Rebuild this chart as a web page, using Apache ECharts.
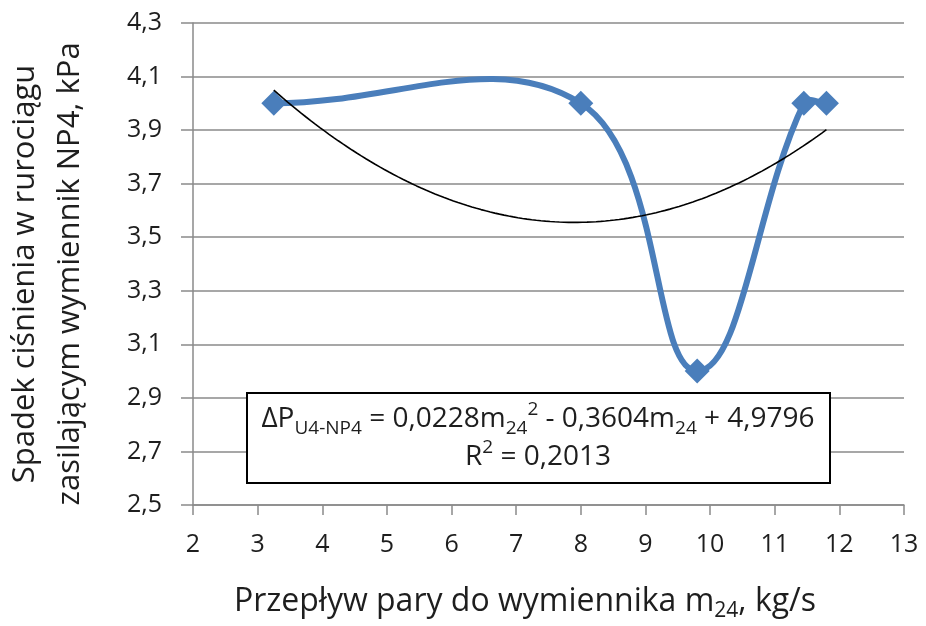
<!DOCTYPE html>
<html>
<head>
<meta charset="utf-8">
<script src="https://cdn.jsdelivr.net/npm/echarts@6/dist/echarts.min.js"></script>
<style>
  html, body { margin: 0; padding: 0; background: #fff; }
  #chart { width: 926px; height: 626px; }
</style>
</head>
<body>
<div id="chart"></div>
<script>
// Measured steam flow m24 [kg/s] and pressure drop in the NP4 supply pipeline [kPa]
const flowValues = [3.25, 8.0, 9.8, 11.45, 11.8];
const pressureDrop = [4.0, 4.0, 3.0, 4.0, 4.0];

// Quadratic trendline as printed in the equation box: c0 + c1*m + c2*m^2
const trendCoefficients = [4.9796, -0.3604, 0.0228];
const trendRSquared = '0,2013';

// Axis ranges and tick labels
const xTicks = [2, 3, 4, 5, 6, 7, 8, 9, 10, 11, 12, 13];
const yTickLabels = ['2,5', '2,7', '2,9', '3,1', '3,3', '3,5', '3,7', '3,9', '4,1', '4,3'];

const FONT = '"Open Sans", Lato, sans-serif';
const TEXT_COLOR = '#1e1e1e';
const GRID_COLOR = '#8a8a8a';
const BLUE = '#4a7ebb';
const SMOOTHNESS = 0.4;

const measured = flowValues.map((x, i) => [x, pressureDrop[i]]);

// Trendline evaluated over the span of the measurements
const xMin = Math.min(...flowValues);
const xMax = Math.max(...flowValues);
const trendSteps = 120;
const trend = [];
for (let k = 0; k <= trendSteps; k++) {
  const m = xMin + (xMax - xMin) * k / trendSteps;
  const y = trendCoefficients[0] + trendCoefficients[1] * m + trendCoefficients[2] * m * m;
  trend.push([m, y]);
}

// Smoothed measurement curve: one cubic Bezier per segment, control points
// taken along the neighbour chord (free to overshoot, like a spreadsheet smooth line).
function controlPoints(P, j) {
  const n = P.length;
  const prev = P[Math.max(j - 1, 0)];
  const next = P[Math.min(j + 1, n - 1)];
  const p = P[j];
  const vx = next[0] - prev[0];
  const vy = next[1] - prev[1];
  const d0 = Math.hypot(p[0] - prev[0], p[1] - prev[1]);
  const d1 = Math.hypot(next[0] - p[0], next[1] - p[1]);
  const r = (d0 + d1) > 0 ? d1 / (d0 + d1) : 0.5;
  return {
    before: [p[0] - vx * SMOOTHNESS * (1 - r), p[1] - vy * SMOOTHNESS * (1 - r)],
    after: [p[0] + vx * SMOOTHNESS * r, p[1] + vy * SMOOTHNESS * r]
  };
}

function renderSmoothSegment(params, api) {
  const i = params.dataIndex;
  if (i >= measured.length - 1) return null;
  const P = measured.map(d => api.coord(d));
  const a = controlPoints(P, i);
  const b = controlPoints(P, i + 1);
  return {
    type: 'bezierCurve',
    shape: {
      x1: P[i][0], y1: P[i][1],
      x2: P[i + 1][0], y2: P[i + 1][1],
      cpx1: a.after[0], cpy1: a.after[1],
      cpx2: b.before[0], cpy2: b.before[1]
    },
    style: { stroke: BLUE, lineWidth: 6, fill: null, lineCap: 'round' }
  };
}

const fmtC = v => String(v).replace('.', ',');
const eqLine1 = '{n|ΔP}{sub|U4-NP4}{n| = ' + fmtC(trendCoefficients[2]) + 'm}{sub|24}{sup|2}' +
  '{n| - ' + fmtC(Math.abs(trendCoefficients[1])) + 'm}{sub|24}{n| + ' + fmtC(trendCoefficients[0]) + '}';
const eqLine2 = '{n|R}{sup|2}{n| = ' + trendRSquared + '}';

const eqRich = {
  n: { fontSize: 28, lineHeight: 38, fontFamily: FONT, fill: TEXT_COLOR },
  sub: { fontSize: 19, lineHeight: 26, verticalAlign: 'bottom', fontFamily: FONT, fill: TEXT_COLOR },
  sup: { fontSize: 19, lineHeight: 30, verticalAlign: 'top', fontFamily: FONT, fill: TEXT_COLOR }
};

const chart = echarts.init(document.getElementById('chart'), null, { renderer: 'canvas' });

chart.setOption({
  animation: false,
  backgroundColor: '#ffffff',
  grid: { left: 193, right: 22, top: 23, bottom: 121, containLabel: false },
  xAxis: {
    type: 'value',
    min: xTicks[0],
    max: xTicks[xTicks.length - 1],
    interval: 1,
    axisLine: { show: true, lineStyle: { color: GRID_COLOR, width: 1.5 } },
    axisTick: { show: true, length: 10, lineStyle: { color: GRID_COLOR, width: 1.5 } },
    splitLine: { show: false },
    axisLabel: { margin: 27, fontSize: 25, fontFamily: FONT, color: TEXT_COLOR }
  },
  yAxis: {
    type: 'value',
    min: 2.5,
    max: 4.3,
    interval: 0.2,
    axisLine: { show: true, lineStyle: { color: GRID_COLOR, width: 1.5 } },
    axisTick: { show: true, length: 12, lineStyle: { color: GRID_COLOR, width: 1.5 } },
    splitLine: { show: true, lineStyle: { color: GRID_COLOR, width: 1.5 } },
    axisLabel: {
      margin: 31,
      fontSize: 25,
      fontFamily: FONT,
      color: TEXT_COLOR,
      formatter: (v) => {
        const idx = Math.round((v - 2.5) / 0.2);
        return yTickLabels[idx] !== undefined ? yTickLabels[idx] : '';
      }
    }
  },
  series: [
    {
      name: 'Pomiar',
      type: 'custom',
      coordinateSystem: 'cartesian2d',
      data: measured,
      encode: { x: 0, y: 1 },
      renderItem: renderSmoothSegment,
      clip: false,
      z: 2
    },
    {
      name: 'Punkty pomiarowe',
      type: 'scatter',
      data: measured,
      symbol: 'diamond',
      symbolSize: 25,
      itemStyle: { color: BLUE, opacity: 1 },
      z: 3
    },
    {
      name: 'Trend',
      type: 'line',
      data: trend,
      showSymbol: false,
      symbol: 'none',
      lineStyle: { color: '#000000', width: 1.6 },
      z: 4
    }
  ],
  graphic: [
    {
      type: 'rect',
      z: 100,
      shape: { x: 247, y: 393, width: 583, height: 90 },
      style: { fill: '#ffffff', stroke: '#000000', lineWidth: 2 }
    },
    {
      type: 'text',
      z: 101,
      x: 538,
      y: 438,
      style: {
        text: eqLine1 + '\n' + eqLine2,
        align: 'center',
        verticalAlign: 'middle',
        rich: eqRich
      }
    },
    {
      type: 'text',
      z: 101,
      x: 48,
      y: 274,
      rotation: Math.PI / 2,
      style: {
        text: 'Spadek ciśnienia w rurociągu\nzasilającym wymiennik NP4, kPa',
        align: 'center',
        verticalAlign: 'middle',
        fontSize: 31,
        lineHeight: 45,
        fontFamily: FONT,
        fill: TEXT_COLOR
      }
    },
    {
      type: 'text',
      z: 101,
      x: 525,
      y: 602,
      style: {
        text: '{t|Przepływ pary do wymiennika m}{s|24}{t|, kg/s}',
        align: 'center',
        verticalAlign: 'middle',
        rich: {
          t: { fontSize: 32, lineHeight: 40, fontFamily: FONT, fill: TEXT_COLOR },
          s: { fontSize: 21, lineHeight: 27, verticalAlign: 'bottom', fontFamily: FONT, fill: TEXT_COLOR }
        }
      }
    }
  ]
});
</script>
</body>
</html>
